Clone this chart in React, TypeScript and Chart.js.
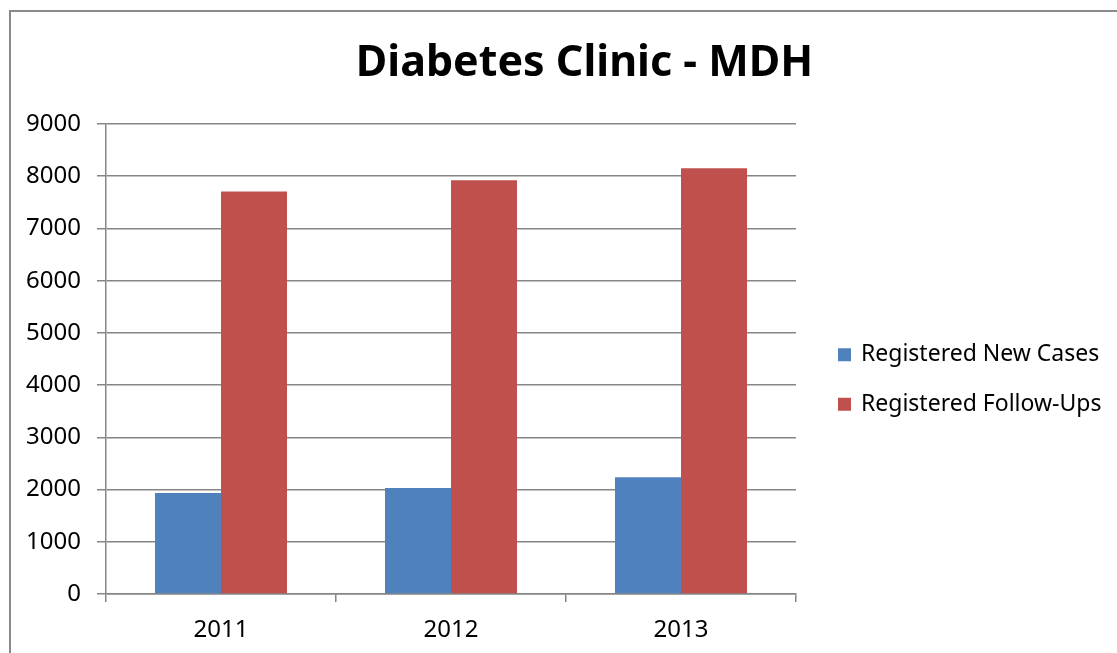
import React, { useEffect, useRef } from "react";
import { Chart, registerables } from "chart.js";

Chart.register(...registerables);

const TITLE = "Diabetes Clinic - MDH";
const YEARS = ["2011", "2012", "2013"];
const NEW_CASES = [1936, 2032, 2236];
const FOLLOW_UPS = [7709, 7924, 8152];
const SERIES_LABELS = ["Registered New Cases", "Registered Follow-Ups"];
const SERIES_COLORS = ["#4F81BD", "#C0504D"];
const Y_MIN = 0;
const Y_MAX = 9000;
const Y_STEP = 1000;

const FONT = "'Noto Sans', 'Open Sans', sans-serif";
const GRID = "#868686";

const sideLegend = {
  id: "sideLegend",
  afterDraw(chart: any) {
    const { ctx, chartArea } = chart;
    ctx.save();
    ctx.font = `23px ${FONT}`;
    ctx.textBaseline = "middle";
    ctx.textAlign = "left";
    const x0 = chartArea.right + 42;
    const yMid = (chartArea.top + chartArea.bottom) / 2 + 19;
    const n = chart.data.datasets.length;
    chart.data.datasets.forEach((ds: any, i: number) => {
      const yc = yMid + (i - (n - 1) / 2) * 49.5;
      ctx.fillStyle = ds.backgroundColor;
      ctx.fillRect(x0, yc - 5, 13, 13);
      ctx.fillStyle = "#000";
      ctx.fillText(ds.label, x0 + 23, yc + 1.5);
    });
    ctx.restore();
  },
};

export default function App() {
  const ref = useRef<HTMLCanvasElement | null>(null);

  useEffect(() => {
    if (!ref.current) return;
    Chart.defaults.font.family = FONT;
    const chart = new Chart(ref.current, {
      type: "bar",
      data: {
        labels: YEARS,
        datasets: [
          {
            label: SERIES_LABELS[0],
            data: NEW_CASES,
            backgroundColor: SERIES_COLORS[0],
            barPercentage: 1,
            categoryPercentage: 0.574,
            yAxisID: "y",
          },
          {
            label: SERIES_LABELS[1],
            data: FOLLOW_UPS,
            backgroundColor: SERIES_COLORS[1],
            barPercentage: 1,
            categoryPercentage: 0.574,
            yAxisID: "y",
          },
        ],
      },
      options: {
        responsive: false,
        animation: false,
        devicePixelRatio: 1,
        layout: { padding: { left: 0, right: -52, top: 0, bottom: 9 } },
        plugins: {
          legend: { display: false },
          tooltip: { enabled: false },
          title: {
            display: true,
            text: TITLE,
            color: "#000",
            font: { family: FONT, size: 43, weight: "bold", lineHeight: 1.2 },
            padding: { top: 38.3, bottom: 34.1 },
          },
        },
        scales: {
          x: {
            offset: true,
            grid: {
              display: true,
              drawOnChartArea: false,
              drawTicks: true,
              tickLength: 8,
              color: GRID,
              lineWidth: 1.5,
              offset: true,
            },
            border: { display: true, color: GRID, width: 1.5 },
            ticks: { color: "#000", font: { family: FONT, size: 24 }, padding: 14 },
            afterFit: (s: any) => {
              s.height = 50;
            },
          },
          y: {
            position: "left",
            min: Y_MIN,
            max: Y_MAX,
            grid: { color: GRID, lineWidth: 1.5, tickLength: 9, drawTicks: true },
            border: { display: true, color: GRID, width: 1.5 },
            ticks: {
              stepSize: Y_STEP,
              color: "#000",
              font: { family: FONT, size: 24 },
              padding: 16,
              callback: (v: any) => String(v),
            },
            afterFit: (s: any) => {
              s.width = 106;
            },
          },
          legendSpace: {
            type: "linear",
            position: "right",
            display: true,
            grid: { display: false, drawTicks: false },
            border: { display: false },
            ticks: { display: false },
            afterFit: (s: any) => {
              s.width = 373;
            },
          },
        },
      } as any,
      plugins: [sideLegend],
    });
    return () => chart.destroy();
  }, []);

  return (
    <div style={{ position: "fixed", left: 0, top: 0, width: 1117, height: 653, background: "#fff", overflow: "hidden" }}>
      <canvas ref={ref} width={1117} height={653} style={{ display: "block", width: 1117, height: 653 }} />
      <div
        style={{
          position: "absolute",
          left: 9,
          top: 10,
          width: 1200,
          height: 700,
          borderTop: "2px solid #8a8a8a",
          borderLeft: "2px solid #8a8a8a",
          pointerEvents: "none",
        }}
      />
    </div>
  );
}
